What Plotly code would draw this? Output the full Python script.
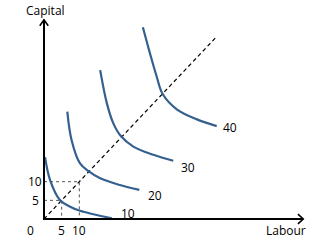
import plotly.graph_objects as go

# Isoquant data (Labour, Capital)
q10_L = [0.3, 1.7, 4.5, 7.4, 10.2, 14.0, 19.2]
q10_K = [16.6, 10.5, 5.1, 3.3, 2.2, 1.26, 0.2]
q20_L = [6.6, 7.8, 10.2, 12.8, 15.9, 21.5, 27.0]
q20_K = [28.8, 21.2, 14.9, 12.7, 10.9, 9.1, 7.8]
q30_L = [15.9, 17.8, 19.6, 21.7, 25.3, 31.0, 36.6]
q30_K = [39.9, 31.0, 25.7, 22.3, 19.4, 17.2, 15.6]
q40_L = [28.0, 30.0, 31.9, 33.6, 37.6, 43.3, 48.9]
q40_K = [51.4, 44.4, 38.2, 33.5, 29.4, 26.7, 24.9]
levels = ["10", "20", "30", "40"]
label_pos = [(23.8, 1.6), (31.4, 6.4), (40.8, 13.9), (52.7, 24.4)]
ticks = [5, 10]
ray_end = 48.6
x_max = 73.4
y_max = 53.4

blue = "#34608f"
fig = go.Figure()

# dotted guides
for t in ticks:
    fig.add_trace(go.Scatter(x=[0, t, t], y=[t, t, 0], mode="lines",
                             line=dict(color="#555555", width=1, dash="dot"),
                             hoverinfo="skip", showlegend=False))
# expansion path
fig.add_trace(go.Scatter(x=[0, ray_end], y=[0, ray_end], mode="lines",
                         line=dict(color="black", width=1.2, dash="4px,3px"),
                         showlegend=False))
# isoquants
for L, K in [(q10_L, q10_K), (q20_L, q20_K), (q30_L, q30_K), (q40_L, q40_K)]:
    fig.add_trace(go.Scatter(x=L, y=K, mode="lines", line=dict(color=blue, width=2.2, shape="spline"),
                             showlegend=False))
# axes
fig.add_trace(go.Scatter(x=[0, 0, x_max], y=[y_max, 0, 0], mode="lines",
                         line=dict(color="black", width=2), showlegend=False))
# arrowheads
fig.add_trace(go.Scatter(x=[-1.2, 0, 1.2], y=[y_max - 1.6, y_max, y_max - 1.6], mode="lines",
                         line=dict(color="black", width=1.6), showlegend=False))
fig.add_trace(go.Scatter(x=[x_max - 1.5, x_max, x_max - 1.5], y=[1.3, 0, -1.3], mode="lines",
                         line=dict(color="black", width=1.6), showlegend=False))

font = dict(family="Open Sans, Liberation Sans, sans-serif", size=12, color="black")
ann = []
for lab, (x, y) in zip(levels, label_pos):
    ann.append(dict(x=x, y=y, text=lab, showarrow=False, font=font))
ann.append(dict(x=0.3, y=56.0, text="Capital", showarrow=False, font=font))
ann.append(dict(x=68.6, y=-3.2, text="Labour", showarrow=False, font=font))
ann.append(dict(x=-3.7, y=-3.2, text="0", showarrow=False, font=font))
for t in ticks:
    ann.append(dict(x=t, y=-3.2, text=str(t), showarrow=False, font=font))
    ann.append(dict(x=-2.55, y=t, text=str(t), showarrow=False, font=font))

fig.update_layout(
    width=311, height=244, margin=dict(l=0, r=0, t=0, b=0),
    paper_bgcolor="white", plot_bgcolor="white",
    xaxis=dict(range=[-12.46, 75.6], visible=False),
    yaxis=dict(range=[-6.7, 58.7], visible=False),
    annotations=ann, showlegend=False,
)
fig.write_html("out.html")
